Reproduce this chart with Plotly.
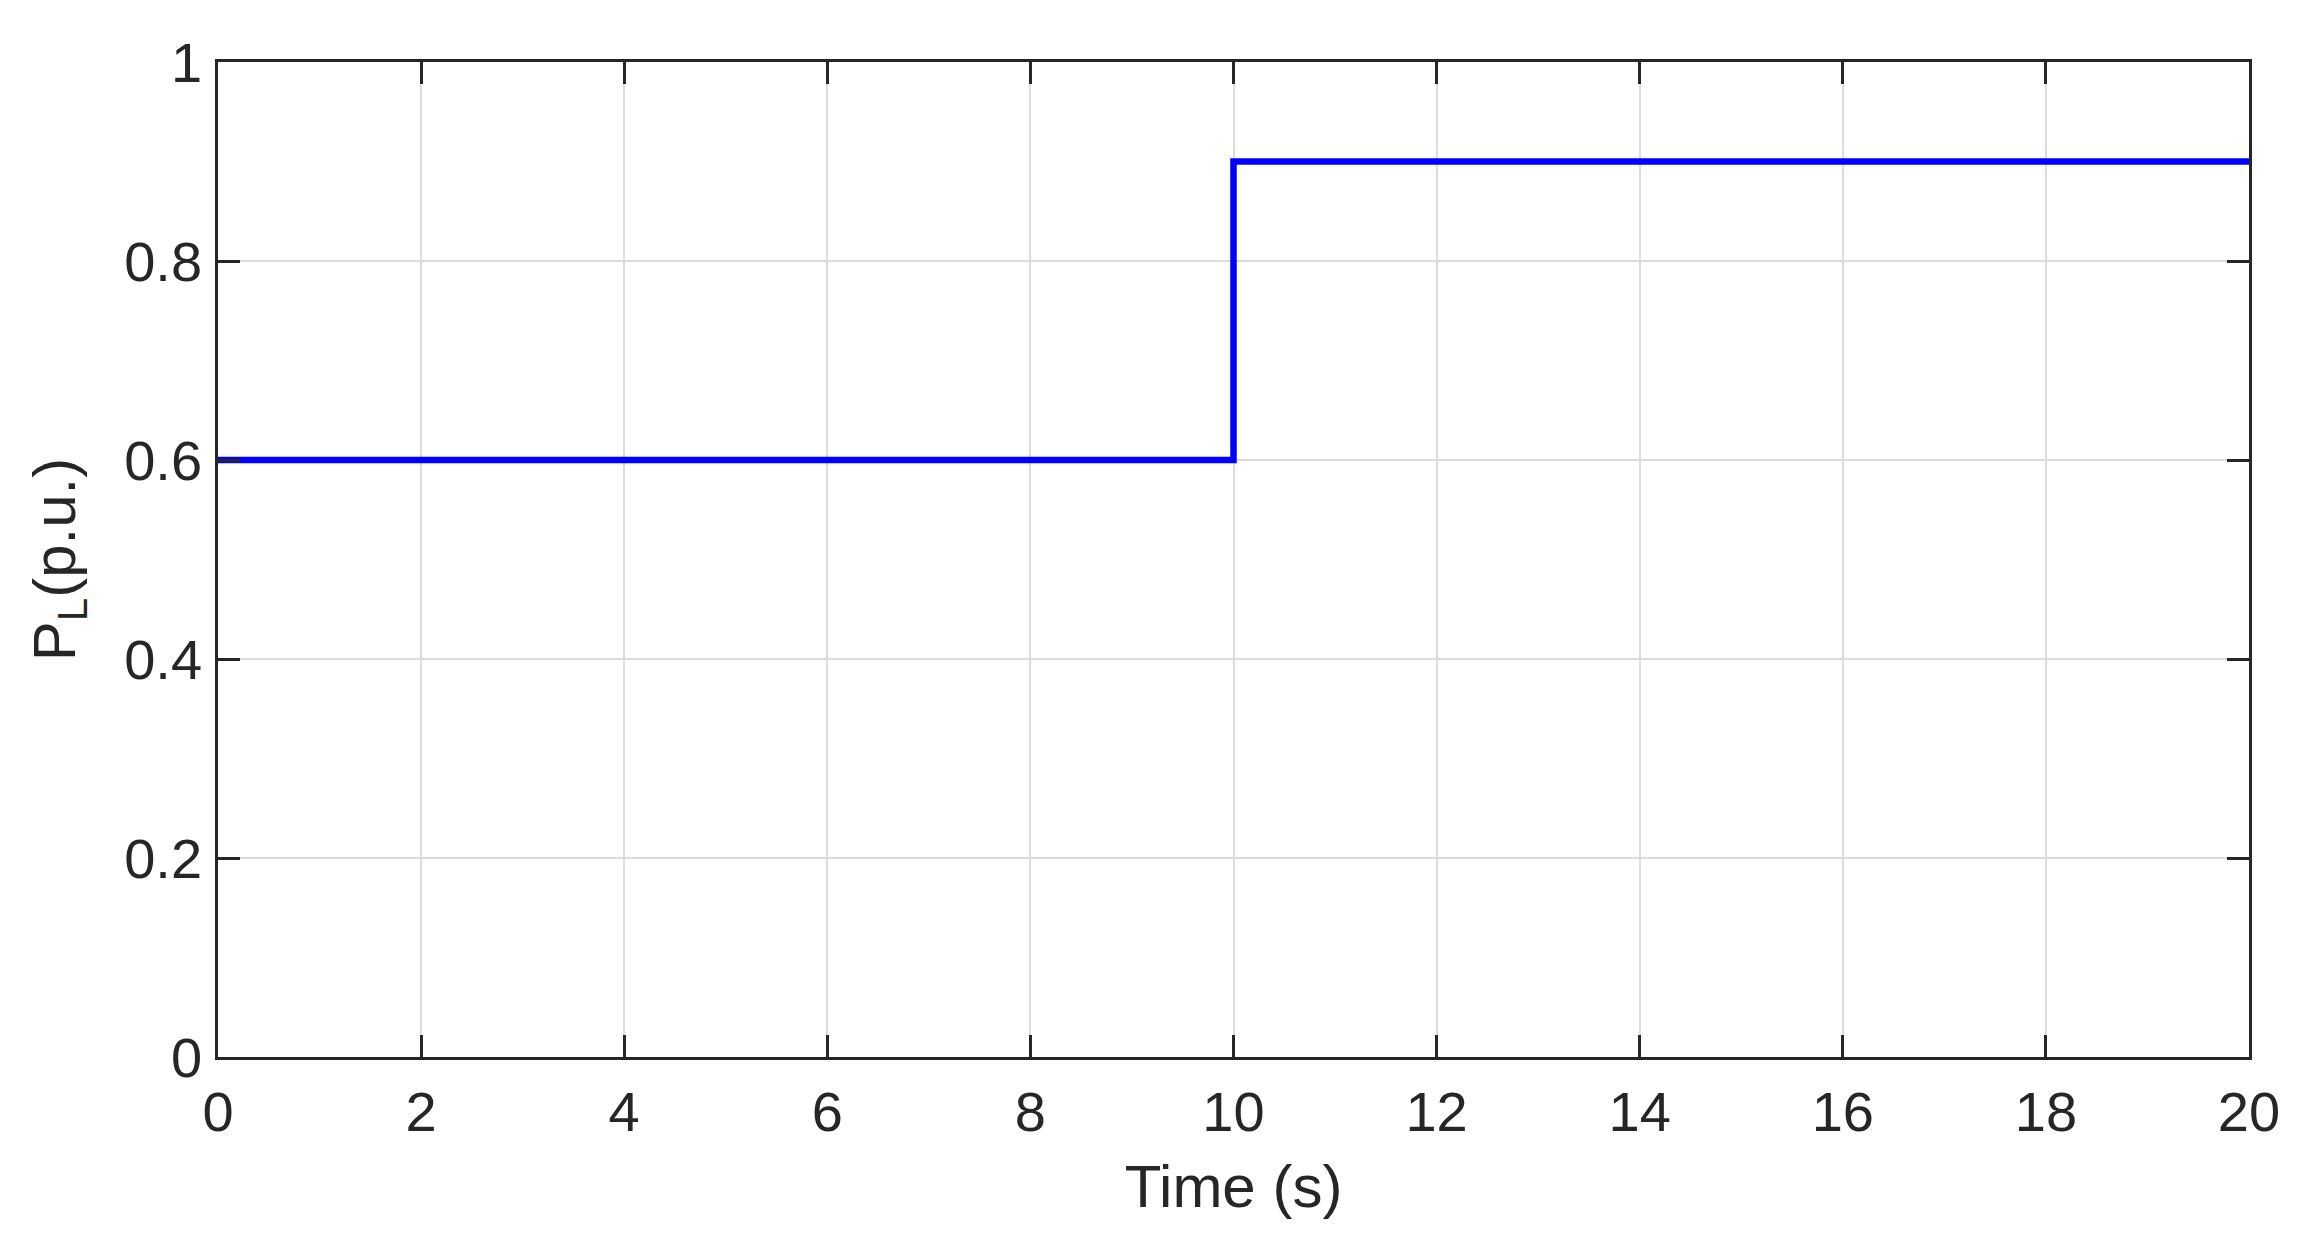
import plotly.graph_objects as go

# load step: power demand jumps at t = 10 s
time_s = [0, 10, 20]
load_pu = [0.6, 0.9, 0.9]

x_ticks = [0, 2, 4, 6, 8, 10, 12, 14, 16, 18, 20]
y_ticks = [0, 0.2, 0.4, 0.6, 0.8, 1]
y_labels = ["0", "0.2", "0.4", "0.6", "0.8", "1"]

font_color = "#262626"
font_family = "Liberation Sans, Arial"

fig = go.Figure()
fig.add_trace(go.Scatter(x=time_s, y=load_pu, mode="lines",
                         line=dict(color="#0000ff", width=6.5, shape="hv"),
                         showlegend=False))

axis_style = dict(showline=True, linecolor=font_color, linewidth=2.5, mirror="ticks",
                  ticks="inside", ticklen=22, tickwidth=2.5, tickcolor=font_color,
                  showgrid=True, gridcolor="#dcdcdc", gridwidth=2, zeroline=False,
                  tickfont=dict(family=font_family, size=56, color=font_color))

fig.update_xaxes(range=[0, 20], tickvals=x_ticks, ticklabelstandoff=4,
                 title=dict(text="Time (s)", font=dict(family=font_family, size=60, color=font_color),
                            standoff=24),
                 **axis_style)
fig.update_yaxes(range=[0, 1], tickvals=y_ticks, ticktext=y_labels, ticklabelstandoff=2,
                 title=dict(text="P<sub>L</sub>(p.u.)", font=dict(family=font_family, size=60, color=font_color),
                            standoff=30),
                 **axis_style)

fig.update_layout(width=2310, height=1248,
                  margin=dict(l=210, r=69, t=54, b=199),
                  paper_bgcolor="white", plot_bgcolor="white")

fig.write_html("out.html")
